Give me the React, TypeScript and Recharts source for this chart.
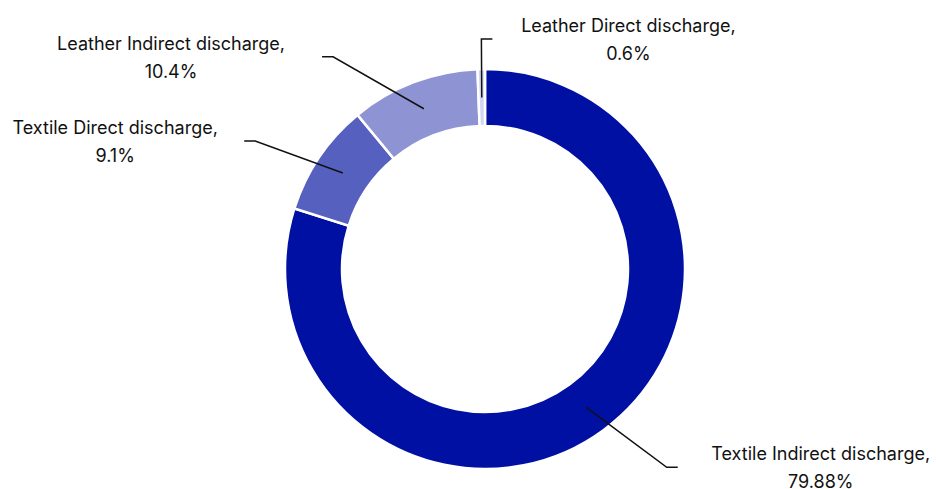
import { Cell, Pie, PieChart } from 'recharts';

const categories = [
  'Textile Indirect discharge',
  'Textile Direct discharge',
  'Leather Indirect discharge',
  'Leather Direct discharge'
];
const shares = [79.88, 9.1, 10.4, 0.6];
const colors = ['#0010a3', '#5660bf', '#8e94d3', '#d3d6f0'];

// where each leader line bends, relative to the pie centre, and how far the text sits from it
const labelLayout = [
  { angle: -47.5, radius: 269, side: 1, textOffset: 143 },
  { angle: 150.9, radius: 263, side: -1, textOffset: 129 },
  { angle: 125.6, radius: 261, side: -1, textOffset: 151 },
  { angle: 90.9, radius: 230, side: 1, textOffset: 136 }
];

const data = categories.map((name, i) => ({ name, value: shares[i] }));

const RAD = Math.PI / 180;
const FONT = 'Inter, "Liberation Sans", Arial, sans-serif';

function polar(cx: number, cy: number, r: number, angle: number) {
  return { x: cx + r * Math.cos(-angle * RAD), y: cy + r * Math.sin(-angle * RAD) };
}

function renderLabel(props: any) {
  const { cx, cy, midAngle, innerRadius, outerRadius, index } = props;
  const layout = labelLayout[index];
  const start = polar(cx, cy, (innerRadius + outerRadius) / 2, midAngle);
  const elbow = polar(cx, cy, layout.radius, layout.angle);
  const endX = elbow.x + layout.side * 11;
  const textX = endX + layout.side * layout.textOffset;

  return (
    <g key={`label-${index}`}>
      <polyline
        fill='none'
        points={`${start.x},${start.y} ${elbow.x},${elbow.y} ${endX},${elbow.y}`}
        stroke='#111'
        strokeWidth={1.5}
      />
      <text
        fill='#111'
        fontFamily={FONT}
        fontSize={18}
        textAnchor='middle'
        x={textX}
        y={elbow.y}
      >
        <tspan dy={-7} x={textX}>{`${categories[index]},`}</tspan>
        <tspan dy={28} x={textX}>{`${shares[index]}%`}</tspan>
      </text>
    </g>
  );
}

export default function App() {
  return (
    <div style={{ width: 936, height: 489 }}>
      <style>{'body { margin: 0; }'}</style>
      <PieChart height={489} margin={{ top: 0, right: 0, bottom: 0, left: 0 }} width={936}>
        <Pie
          cx={485}
          cy={269}
          data={data}
          dataKey='value'
          endAngle={-270}
          innerRadius={143}
          isAnimationActive={false}
          label={renderLabel}
          labelLine={false}
          outerRadius={200}
          startAngle={90}
          stroke='#fff'
          strokeWidth={2.5}
        >
          {data.map((entry, i) => (
            <Cell fill={colors[i]} key={entry.name} />
          ))}
        </Pie>
      </PieChart>
    </div>
  );
}
